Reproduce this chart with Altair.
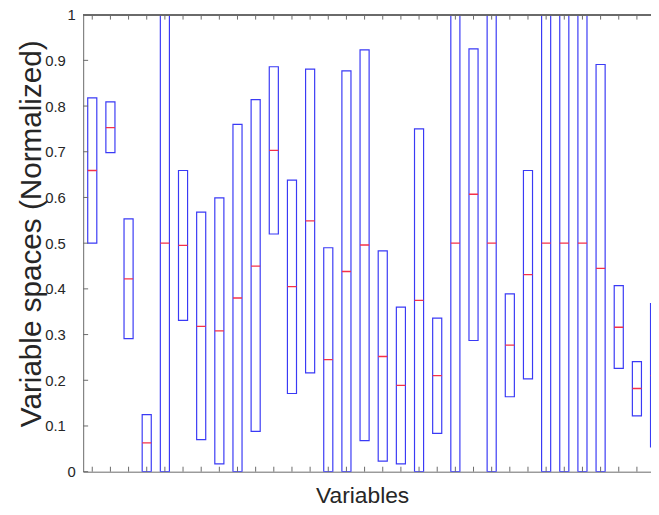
import altair as alt
import pandas as pd

# ---- data ----
variables = list(range(1, 33))
lower = [0.500, 0.698, 0.291, 0.000, 0.000, 0.331, 0.070, 0.017, 0.000, 0.088,
         0.520, 0.171, 0.216, 0.000, 0.000, 0.068, 0.023, 0.017, 0.000, 0.084,
         0.000, 0.287, 0.000, 0.164, 0.203, 0.000, 0.000, 0.000, 0.000, 0.226,
         0.122, 0.054]
upper = [0.818, 0.809, 0.553, 0.125, 1.000, 0.659, 0.568, 0.599, 0.760, 0.814,
         0.886, 0.638, 0.881, 0.490, 0.877, 0.923, 0.483, 0.360, 0.750, 0.336,
         1.000, 0.925, 1.000, 0.389, 0.659, 1.000, 1.000, 1.000, 0.891, 0.407,
         0.241, 0.368]
median = [0.659, 0.753, 0.422, 0.063, 0.500, 0.495, 0.318, 0.308, 0.380, 0.450,
          0.703, 0.405, 0.549, 0.245, 0.438, 0.496, 0.252, 0.189, 0.375, 0.210,
          0.500, 0.607, 0.500, 0.277, 0.431, 0.500, 0.500, 0.500, 0.445, 0.316,
          0.182, 0.210]
x_ticks = list(range(1, 32))
y_ticks = [0, 0.1, 0.2, 0.3, 0.4, 0.5, 0.6, 0.7, 0.8, 0.9, 1]

W, H = 574, 462
BLUE = "#3a3af5"
RED = "#f5304a"
AX = "#6a6a6a"
TXT = "#262626"
FONT = "Liberation Sans"

df = pd.DataFrame({"var": variables, "lo": lower, "hi": upper, "med": median})
xt = pd.DataFrame({"x0": x_ticks})
yt = pd.DataFrame({"lo": y_ticks})

xscale = alt.Scale(domain=[0.5, 31.776], nice=False, zero=False)
yscale = alt.Scale(domain=[0, 1], nice=False, zero=False)

xax = alt.Axis(title="Variables", labels=False, ticks=False, grid=False,
               domainColor=AX, domainWidth=1, titleFont=FONT, titleFontSize=23,
               titleFontWeight="normal", titleColor=TXT, titleX=282, titleY=31,
               titleBaseline="alphabetic", titleAlign="center")
yax = alt.Axis(title="Variable spaces (Normalized)", values=y_ticks, format="~g",
               ticks=False, tickSize=0, grid=False, domainColor=AX, domainWidth=1,
               labelFont=FONT, labelFontSize=15, labelColor=TXT,
               labelPadding={"condition": {"test": "datum.value == 0 || datum.value == 1",
                                           "value": 8},
                             "value": 18},
               labelFlush=False, labelOverlap=False,
               titleFont=FONT, titleFontSize=30, titleFontWeight="normal",
               titleColor=TXT, titleAngle=270, titleX=-43, titleY=221,
               titleBaseline="alphabetic", titleAlign="center")

base = alt.Chart(df).transform_calculate(
    x0="datum.var - 0.25", x1="datum.var + 0.25"
)

boxes = base.mark_rect(stroke=BLUE, strokeWidth=1.2, fillOpacity=0, clip=True).encode(
    x=alt.X("x0:Q", scale=xscale, axis=xax),
    x2="x1:Q",
    y=alt.Y("lo:Q", scale=yscale, axis=yax),
    y2="hi:Q",
)

medians = base.mark_rule(color=RED, strokeWidth=1.3, clip=True).encode(
    x=alt.X("x0:Q", scale=xscale, axis=xax),
    x2="x1:Q",
    y=alt.Y("med:Q", scale=yscale, axis=yax),
)

bottom_ticks = alt.Chart(xt).mark_rule(color=AX, strokeWidth=1).encode(
    x=alt.X("x0:Q", scale=xscale, axis=xax),
    y=alt.value(H), y2=alt.value(H - 5),
)
top_ticks = alt.Chart(xt).mark_rule(color=AX, strokeWidth=1).encode(
    x=alt.X("x0:Q", scale=xscale, axis=xax),
    y=alt.value(0), y2=alt.value(5),
)
left_ticks = alt.Chart(yt).mark_rule(color=AX, strokeWidth=1).encode(
    y=alt.Y("lo:Q", scale=yscale, axis=yax),
    x=alt.value(0), x2=alt.value(5),
)
top_border = alt.Chart(xt).mark_rule(color=AX, strokeWidth=1).encode(
    x=alt.value(0), x2=alt.value(W), y=alt.value(0),
)

chart = alt.layer(boxes, medians, bottom_ticks, top_ticks, left_ticks, top_border).properties(
    width=W, height=H,
    autosize=alt.AutoSizeParams(type="none"),
    padding={"left": 76, "top": 4, "right": 0, "bottom": 35},
    background="white",
).configure_view(stroke=None)

chart.save("out.html", embed_options={"renderer": "svg", "actions": False})
